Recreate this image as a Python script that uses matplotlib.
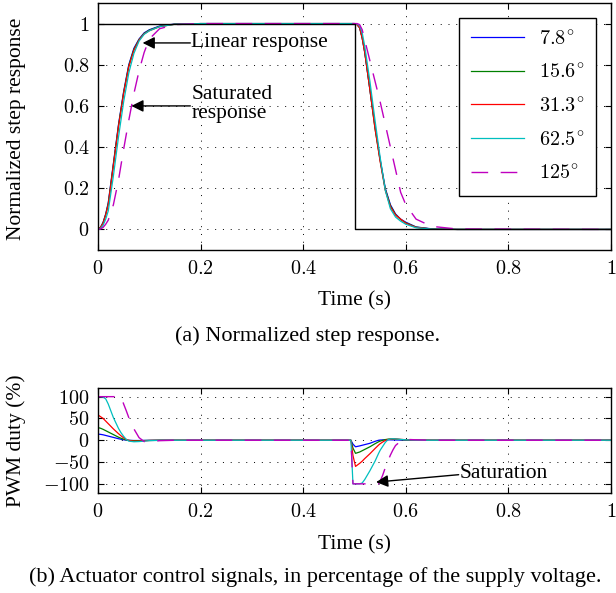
import numpy as np
import matplotlib
matplotlib.use("Agg")
import matplotlib.pyplot as plt
from matplotlib.ticker import FuncFormatter, MultipleLocator

plt.rcParams['font.family'] = ['Liberation Serif', 'DejaVu Serif']
plt.rcParams['mathtext.fontset'] = 'cm'
plt.rcParams['font.size'] = 15.5

# ---- data ----
labels = ['7.8°', '15.6°', '31.3°', '62.5°', '125°']
colors = ['#0000ff', '#008000', '#ff0000', '#00bfbf', '#bf00bf']

# (a) normalized step response
t_ref = [0, 0.5, 0.5, 1.0]
y_ref = [1, 1, 0, 0]

t_top = [0, 0.005, 0.01, 0.015, 0.02, 0.03, 0.04, 0.05, 0.06, 0.07, 0.08, 0.09, 0.10, 0.12, 0.15, 0.20,
         0.50, 0.505, 0.51, 0.515, 0.52, 0.53, 0.54, 0.55, 0.56, 0.57, 0.58, 0.59, 0.60, 0.62, 0.65, 0.70, 1.0]
resp_78 = [0, 0.01, 0.035, 0.075, 0.13, 0.32, 0.51, 0.67, 0.80, 0.88, 0.925, 0.955, 0.97, 0.988, 0.998, 1.0,
           1.0, 0.995, 0.98, 0.93, 0.86, 0.68, 0.50, 0.34, 0.20, 0.12, 0.075, 0.05, 0.035, 0.012, 0.003, 0.0, 0.0]
resp_156 = [0, 0.01, 0.033, 0.072, 0.125, 0.315, 0.505, 0.665, 0.795, 0.875, 0.922, 0.952, 0.968, 0.986, 0.997, 1.0,
            1.0, 0.995, 0.98, 0.93, 0.86, 0.68, 0.49, 0.335, 0.195, 0.115, 0.072, 0.048, 0.032, 0.011, 0.002, 0.0, 0.0]
resp_313 = [0, 0.01, 0.03, 0.07, 0.12, 0.31, 0.50, 0.66, 0.79, 0.87, 0.92, 0.95, 0.965, 0.985, 0.997, 1.0,
            1.0, 0.995, 0.98, 0.93, 0.86, 0.68, 0.49, 0.33, 0.19, 0.11, 0.07, 0.05, 0.03, 0.01, 0.002, 0.0, 0.0]
resp_625 = [0, 0.005, 0.02, 0.05, 0.09, 0.26, 0.45, 0.62, 0.76, 0.855, 0.915, 0.948, 0.965, 0.985, 0.997, 1.0,
            1.0, 0.998, 0.99, 0.955, 0.89, 0.72, 0.53, 0.35, 0.19, 0.10, 0.06, 0.04, 0.025, 0.008, 0.002, 0.0, 0.0]
resp_125 = [0, 0.002, 0.01, 0.025, 0.045, 0.12, 0.24, 0.39, 0.53, 0.66, 0.77, 0.86, 0.925, 0.975, 0.995, 1.0,
            1.0, 1.0, 0.995, 0.97, 0.92, 0.82, 0.72, 0.62, 0.51, 0.40, 0.29, 0.18, 0.12, 0.05, 0.015, 0.002, 0.0]
responses = [resp_78, resp_156, resp_313, resp_625, resp_125]

# (b) actuator control signals (% of supply voltage)
t_bot = [0, 0.005, 0.01, 0.015, 0.02, 0.03, 0.04, 0.045, 0.05, 0.055, 0.06, 0.07, 0.08, 0.09, 0.10, 0.12, 0.15,
         0.493, 0.497, 0.502, 0.51, 0.515, 0.52, 0.53, 0.54, 0.547, 0.55, 0.555, 0.56, 0.565, 0.57, 0.575, 0.58,
         0.59, 0.60, 0.62, 0.65, 1.0]
pwm_78 = [14, 13.5, 12.5, 11, 9.5, 6.5, 3.5, 2.2, 1.1, 0.3, -0.2, -0.6, -0.6, -0.4, -0.2, 0, 0,
          0, -9, -15, -13, -11.5, -10, -7, -2.5, 0, 0.5, 0.8, 1, 1, 0.9, 0.8, 0.6,
          0.4, 0.2, 0.1, 0, 0]
pwm_156 = [29, 27.5, 25, 22, 19, 13, 7, 4.5, 2.5, 0.8, -0.3, -1, -1, -0.6, -0.3, 0, 0,
           0, -18, -30, -27, -24, -21, -15, -8, -3.5, -2, 0, 1.5, 2.5, 3, 3, 2.5,
           1.5, 0.8, 0.2, 0, 0]
pwm_313 = [58, 54, 50, 44, 38, 26, 15, 10, 5.5, 2, -0.5, -2, -2, -1.2, -0.6, -0.1, 0,
           0, -35, -60, -53, -48, -42, -31, -19, -11, -8, -4, -0.5, 1.5, 2.5, 3, 3,
           2, 1.2, 0.3, 0, 0]
pwm_625 = [100, 100, 99, 95, 83, 52, 27, 17, 9, 2, -2, -3.5, -3, -2, -1, -0.2, 0,
           0, -100, -100, -100, -98, -90, -70, -48, -30, -23, -14, -5, 1, 3, 3.5, 3,
           2, 1, 0.3, 0, 0]
pwm_125 = [100, 100, 100, 100, 100, 100, 100, 100, 83, 68, 52, 26, 6, -3, -3.5, -1, 0,
           0, -100, -100, -100, -100, -100, -100, -100, -100, -94, -80, -63, -48, -34, -22, -12,
           -2, 2, 1, 0, 0]
pwm = [pwm_78, pwm_156, pwm_313, pwm_625, pwm_125]

# ---- figure ----
W, H = 616, 593
fig = plt.figure(figsize=(W / 100, H / 100), dpi=100)
ax1 = fig.add_axes([98 / W, 1 - 250 / H, 513 / W, 247 / H])
ax2 = fig.add_axes([98 / W, 1 - 493 / H, 513 / W, 105.5 / H])

fmt = FuncFormatter(lambda v, p: '$%g$' % round(v, 6))
grid_style = dict(color='k', linestyle=(0, (1, 7)), linewidth=0.7)


def style_axes(ax):
    ax.set_xlim(0, 1)
    ax.xaxis.set_major_locator(MultipleLocator(0.2))
    ax.xaxis.set_major_formatter(fmt)
    ax.yaxis.set_major_formatter(fmt)
    ax.tick_params(direction='in', top=True, right=True, length=4, width=0.8, labelsize=14.5)
    ax.tick_params(axis='x', pad=7)
    ax.tick_params(axis='y', pad=6)
    ax.grid(True, **grid_style)
    for s in ax.spines.values():
        s.set_linewidth(1.0)


def line_kw(i):
    if i == 4:
        return dict(color=colors[i], lw=1.0, linestyle=(0, (12, 9)))
    return dict(color=colors[i], lw=0.9)


# (a)
for i in range(5):
    ax1.plot(t_top, responses[i], label='$' + labels[i].replace('°', r'^{\!\circ}') + '$', **line_kw(i))
ax1.plot(t_ref, y_ref, color='k', lw=1.0)
style_axes(ax1)
ax1.set_ylim(-0.1, 1.1)
ax1.yaxis.set_major_locator(MultipleLocator(0.2))
ax1.set_ylabel('Normalized step response')
ax1.yaxis.set_label_coords(-0.140, 0.49)
ax1.set_xlabel('Time (s)')
ax1.xaxis.set_label_coords(0.5, -0.205)
ax1.xaxis.label.set_va('center')

leg = ax1.legend(loc='upper right', bbox_to_anchor=(0.971, 0.939), borderaxespad=0,
                 fancybox=False, framealpha=1, edgecolor='k', handlelength=2.6,
                 handletextpad=0.75, labelspacing=0.72, borderpad=0.6, fontsize=14.5)
leg.get_frame().set_linewidth(1.0)

arrow = dict(arrowstyle='-|>', color='k', lw=1.0, shrinkA=0, shrinkB=0, mutation_scale=18)
ax1.annotate('', xy=(0.087, 0.906), xytext=(0.180, 0.906), arrowprops=arrow)
ax1.text(0.182, 0.906, 'Linear response', ha='left', va='center')
ax1.annotate('', xy=(0.065, 0.60), xytext=(0.180, 0.60), arrowprops=arrow)
ax1.text(0.183, 0.61, 'Saturated\nresponse', ha='left', va='center', linespacing=1.0)

# (b)
for i in range(5):
    ax2.plot(t_bot, pwm[i], **line_kw(i))
style_axes(ax2)
ax2.set_ylim(-121, 121)
ax2.set_yticks([-100, -50, 0, 50, 100])
ax2.set_ylabel('PWM duty (%)')
ax2.yaxis.set_label_coords(-0.140, 0.5)
ax2.set_xlabel('Time (s)')
ax2.xaxis.set_label_coords(0.5, -0.49)
ax2.xaxis.label.set_va('center')
ax2.annotate('', xy=(0.542, -96), xytext=(0.703, -79), arrowprops=arrow)
ax2.text(0.705, -77, 'Saturation', ha='left', va='center')

fig.text(0.5, 1 - 336 / H, '(a) Normalized step response.', ha='center', va='center', fontsize=16)
fig.text(0.512, 1 - 577 / H, '(b) Actuator control signals, in percentage of the supply voltage.',
         ha='center', va='center', fontsize=16)

fig.savefig('out.png', dpi=100)
